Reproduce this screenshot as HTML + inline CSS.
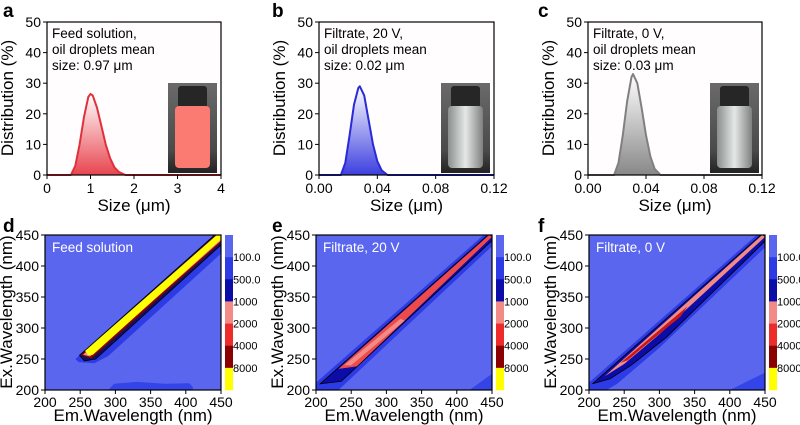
<!DOCTYPE html>
<html><head><meta charset="utf-8"><style>
body{margin:0;background:#fff}
svg{display:block;font-family:"Liberation Sans",Arial,sans-serif}
</style></head><body>
<svg id="fig" width="800" height="425" viewBox="0 0 800 425">
<defs>
<linearGradient id="gr" x1="0" y1="0" x2="0" y2="1"><stop offset="0" stop-color="#fff"/><stop offset="1" stop-color="#e8454f"/></linearGradient>
<linearGradient id="gb" x1="0" y1="0" x2="0" y2="1"><stop offset="0" stop-color="#fff"/><stop offset="1" stop-color="#3d3fe0"/></linearGradient>
<linearGradient id="gg" x1="0" y1="0" x2="0" y2="1"><stop offset="0" stop-color="#fff"/><stop offset="1" stop-color="#888"/></linearGradient>
<linearGradient id="vialclear" x1="0" y1="0" x2="1" y2="0"><stop offset="0" stop-color="#8a8e8c"/><stop offset="0.5" stop-color="#e4e8e6"/><stop offset="1" stop-color="#7d807e"/></linearGradient>
<linearGradient id="photobg" x1="0" y1="0" x2="0" y2="1"><stop offset="0" stop-color="#6a6a6a"/><stop offset="0.75" stop-color="#4a4a4a"/><stop offset="1" stop-color="#222"/></linearGradient>
</defs>
</svg>
<script>
// ---- distribution data ----
const aX=[0,0.55,0.65,0.75,0.85,0.95,1.0,1.05,1.15,1.25,1.35,1.45,1.55,1.65,1.8,4];
const aY=[0,0,3,10,19,25.5,26.5,26,22,16,10,5.5,2.5,1,0,0];
const bX=[0,0.015,0.018,0.021,0.024,0.027,0.028,0.031,0.034,0.037,0.040,0.043,0.047,0.12];
const bY=[0,0,4,13,23,28.5,29,26,18,10,4.5,1.5,0,0];
const cX=[0,0.018,0.021,0.024,0.027,0.030,0.031,0.034,0.037,0.040,0.043,0.046,0.050,0.12];
const cY=[0,0,4,13,24,32,33,30,22,13,6,2,0,0];
const aTicks=["0","1","2","3","4"];
const bTicks=["0.00","0.04","0.08","0.12"];
const yTicks=[0,10,20,30,40,50];
// ---- EEM contour polygons [em, ex] ----
const dBlue=[[243,250],[248,245],[270,243],[290,255],[450,420],[450,450],[440,450]];
const dNavy=[[249,256],[441,450],[450,450],[450,434],[272,250],[256,247]];
const dDark=[[251,256],[443,450],[450,450],[450,438],[266,251]];
const dPink=[[254,257],[445,450],[450,450],[450,441],[264,254]];
const dYellow=[[257,263],[261,256],[268,257],[450,443],[450,450],[444,450]];
const dBlob=[[290,200],[298,210],[330,213],[370,210],[405,211],[410,205],[410,200]];
const eBlue=[[200,200],[200,212],[438,450],[450,450],[450,432],[232,200]];
const eNavy=[[206,210],[444,450],[450,450],[450,441],[236,214]];
const eRed=[[232,234],[446,450],[450,447],[258,238]];
const ePink=[[240,240],[320,315],[326,312],[250,240]];
const eCorner=[[418,200],[450,226],[450,200]];
const fBlue=[[200,200],[200,212],[438,450],[450,450],[450,430],[320,290],[300,268],[240,210],[225,200]];
const fNavy=[[205,210],[444,450],[450,450],[450,440],[310,285],[260,240],[230,218]];
const fPink=[[222,222],[446,450],[450,447],[300,290],[250,242]];
const fRed=[[245,244],[340,335],[330,318],[280,272],[255,248]];
const fCorner=[[400,200],[450,228],[450,200]];
const cbLabels=["100.0","500.0","1000","2000","4000","8000"];
const cbColors=["#5b66ee","#2c3be6","#0c0ca8","#f28a86","#ee2b2b","#8b0000","#ffff00"];
const eemTicks=[200,250,300,350,400,450];

const svg=document.getElementById('fig');
const NS="http://www.w3.org/2000/svg";
function el(t,a,p){const e=document.createElementNS(NS,t);for(const k in a)e.setAttribute(k,a[k]);(p||svg).appendChild(e);return e;}
function txt(x,y,s,a,p){const e=el('text',Object.assign({x:x,y:y},a),p);e.textContent=s;return e;}

function distPanel(letter,lx,x0,x1,xmax,ticks,xs,ys,col,grad,lines,ix,vial){
  const y0=175,y1=22;
  const X=v=>x0+(v/xmax)*(x1-x0), Y=v=>y0-(v/50)*(y0-y1);
  const g=el('g',{});
  
  
  const l=txt(lx,17,letter,{'font-size':19,'font-weight':'bold'},g);
  
  el('rect',{x:x0,y:y1,width:x1-x0,height:y0-y1,fill:'#fffdfd',stroke:'none'},g);
  let d='M'+X(xs[0])+','+Y(0);xs.forEach((v,i)=>d+=' L'+X(v).toFixed(1)+','+Y(ys[i]).toFixed(1));d+=' L'+X(xs[xs.length-1])+','+Y(0)+'Z';
  const f=el('path',{d:d,fill:'url(#'+grad+')',stroke:'none'},g);
  
  let d2='';xs.forEach((v,i)=>d2+=(i?' L':'M')+X(v).toFixed(1)+','+Y(ys[i]).toFixed(1));
  const ln=el('path',{d:d2,fill:'none',stroke:col,'stroke-width':2,'stroke-linejoin':'round'},g);
  
  const vg=el('g',{},g);
  el('rect',{x:ix,y:83,width:49,height:90,fill:'url(#photobg)'},vg);
  el('rect',{x:ix+10,y:86,width:29,height:22,rx:3,fill:'#262626'},vg);
  if(vial==='pink') el('rect',{x:ix+7,y:106,width:35,height:62,rx:4,fill:'#fb7a72'},vg);
  else el('rect',{x:ix+7,y:106,width:35,height:62,rx:4,fill:'url(#vialclear)'},vg);
  el('rect',{x:x0,y:y1,width:x1-x0,height:y0-y1,fill:'none',stroke:'#000','stroke-width':1.2},g);
  ticks.forEach((t,i)=>{const v=i*xmax/(ticks.length-1);el('line',{x1:X(v),x2:X(v),y1:y0,y2:y0+4,stroke:'#000'},g);
    const tt=txt(X(v),y0+18,t,{'font-size':14,'text-anchor':'middle'},g);});
  yTicks.forEach(v=>{el('line',{x1:x0-4,x2:x0,y1:Y(v),y2:Y(v),stroke:'#000'},g);
    const tt=txt(x0-6,Y(v)+5,String(v),{'font-size':14,'text-anchor':'end'},g);});
  const xl=txt((x0+x1)/2,211,'Size (μm)',{'font-size':17,'text-anchor':'middle'},g);
  
  const yl=txt(0,0,'Distribution (%)',{'font-size':17,'text-anchor':'middle',transform:'translate('+(x0-34)+',98) rotate(-90)'},g);
  
  const ann=el('g',{},g);
  lines.forEach((s,i)=>txt(x0+5,38+i*16,s,{'font-size':13.5},ann));
}
distPanel('a',3,47,221,4,aTicks,aX,aY,'#e0303c','gr',['Feed solution,','oil droplets mean','size: 0.97 μm'],168,'pink');
distPanel('b',272,319,494,0.12,bTicks,bX,bY,'#2a2ad6','gb',['Filtrate, 20 V,','oil droplets mean','size: 0.02 μm'],441,'clear');
distPanel('c',538,588,762,0.12,bTicks,cX,cY,'#808080','gg',['Filtrate, 0 V,','oil droplets mean','size: 0.03 μm'],710,'clear');

function eemPanel(letter,lx,x0,label,polys){
  const x1=x0+176,y0=390,y1=235;
  const X=v=>x0+(v-200)/250*(x1-x0), Y=v=>y0-(v-200)/250*(y0-y1);
  const g=el('g',{});
  
  
  const l=txt(lx,232,letter,{'font-size':19,'font-weight':'bold'},g);
  
  el('rect',{x:x0,y:y1,width:x1-x0,height:y0-y1,fill:cbColors[0]},g);
  polys.forEach(p=>{
    const pts=p[0].map(q=>X(q[0]).toFixed(1)+','+Y(q[1]).toFixed(1)).join(' ');
    const pg=el('polygon',{points:pts,fill:p[1],stroke:p[2]||'none','stroke-width':0.8},g);
    
  });
  el('rect',{x:x0,y:y1,width:x1-x0,height:y0-y1,fill:'none',stroke:'#000','stroke-width':1.2},g);
  const lt=txt(x0+7,y1+17,label,{'font-size':13.5,fill:'#fff'},g);
  
  eemTicks.forEach(v=>{
    el('line',{x1:X(v),x2:X(v),y1:y0,y2:y0+4,stroke:'#000'},g);
    const a=txt(X(v),y0+17,String(v),{'font-size':14,'text-anchor':'middle'},g);
    el('line',{x1:x0-4,x2:x0,y1:Y(v),y2:Y(v),stroke:'#000'},g);
    const b=txt(x0-6,Y(v)+5,String(v),{'font-size':14,'text-anchor':'end'},g);
  });
  const xl=txt((x0+x1)/2,421,'Em.Wavelength (nm)',{'font-size':17,'text-anchor':'middle'},g);
  
  const yl=txt(0,0,'Ex.Wavelength (nm)',{'font-size':17,'text-anchor':'middle',transform:'translate('+(x0-33)+',312) rotate(-90)'},g);
  
  const cb=el('g',{},g);
  const cx=x1+4,h=(y0-y1)/cbColors.length;
  cbColors.forEach((c,i)=>el('rect',{x:cx,y:y1+i*h,width:8,height:h+0.3,fill:c},cb));
  cbLabels.forEach((s,i)=>{const t=txt(cx+8,y1+(i+1)*h+4,s,{'font-size':11},cb);});
}
eemPanel('d',3,45,'Feed solution',[[dBlob,'#3344e8'],[dBlue,'#2c3be6'],[dNavy,'#101060','#000'],[dDark,'#8b0000'],[dPink,'#f28a86'],[dYellow,'#ffff00']]);
eemPanel('e',272,316,'Filtrate, 20 V',[[eCorner,'#3344e8'],[eBlue,'#2c3be6'],[eNavy,'#0c0ca8','#000'],[eRed,'#ee4a4a'],[ePink,'#f28a86']]);
eemPanel('f',538,589,'Filtrate, 0 V',[[fCorner,'#3344e8'],[fBlue,'#2c3be6'],[fNavy,'#0c0ca8','#000'],[fPink,'#f28a86'],[fRed,'#c81818']]);
</script>
</body></html>
